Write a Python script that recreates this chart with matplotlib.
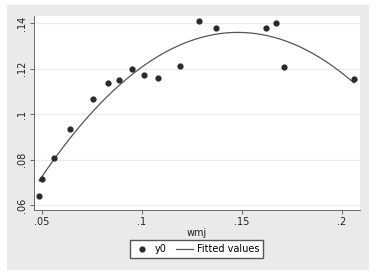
import numpy as np
import matplotlib.pyplot as plt
from matplotlib.patches import Rectangle

# data points
wmj = [0.0485, 0.050, 0.056, 0.064, 0.0755, 0.083, 0.0885, 0.095, 0.101,
       0.108, 0.119, 0.1285, 0.137, 0.162, 0.167, 0.171, 0.206]
y0 = [0.064, 0.0714, 0.0807, 0.0934, 0.1066, 0.1136, 0.115, 0.120, 0.1171,
      0.1158, 0.121, 0.1409, 0.1378, 0.1378, 0.140, 0.1207, 0.1154]

xticks = [0.05, 0.1, 0.15, 0.2]
xticklabels = [".05", ".1", ".15", ".2"]
yticks = [0.06, 0.08, 0.1, 0.12, 0.14]
yticklabels = [".06", ".08", ".1", ".12", ".14"]

# quadratic fit, like stata's qfit
coef = np.polyfit(wmj, y0, 2)
xs = np.linspace(min(wmj), max(wmj), 200)
fit = np.polyval(coef, xs)

fig = plt.figure(figsize=(3.76, 2.75), dpi=100, facecolor="white")
bg = Rectangle((7/376, 5/275), 362/376, 265/275, transform=fig.transFigure,
               facecolor="#eaeaea", edgecolor="none", zorder=-10)
fig.add_artist(bg)

ax = fig.add_axes([34/376, 1 - 210/275, 326/376, 194/275])
ax.set_zorder(1)
ax.set_facecolor("white")
ax.scatter(wmj, y0, s=12, color="#2a2a2a", zorder=3, label="y0")
ax.plot(xs, fit, color="#555555", lw=0.9, zorder=2, label="Fitted values")

ax.set_xlim(0.046, 0.209)
ax.set_ylim(0.0578, 0.1431)
ax.set_xticks(xticks)
ax.set_xticklabels(xticklabels)
ax.set_yticks(yticks)
ax.set_yticklabels(yticklabels, rotation=90, va="center")
ax.tick_params(labelsize=7, length=3, width=0.6, color="#555555",
               labelcolor="#222222", pad=2)
ax.grid(axis="y", color="#eaeaea", lw=0.8)
ax.set_axisbelow(True)
for s in ["top", "right"]:
    ax.spines[s].set_visible(False)
for s in ["left", "bottom"]:
    ax.spines[s].set_color("#555555")
    ax.spines[s].set_linewidth(0.6)
ax.set_xlabel("wmj", fontsize=7, labelpad=1, color="#222222")

leg = fig.legend(loc="center", bbox_to_anchor=(196.5/376, 1 - 249/275), ncol=2,
                 fontsize=7, frameon=True, fancybox=False, edgecolor="#555555",
                 framealpha=1, borderpad=0.4, handlelength=1.8,
                 handletextpad=0.4, columnspacing=0.9)
leg.set_zorder(2)

fig.savefig("out.png", dpi=100, facecolor="white")
